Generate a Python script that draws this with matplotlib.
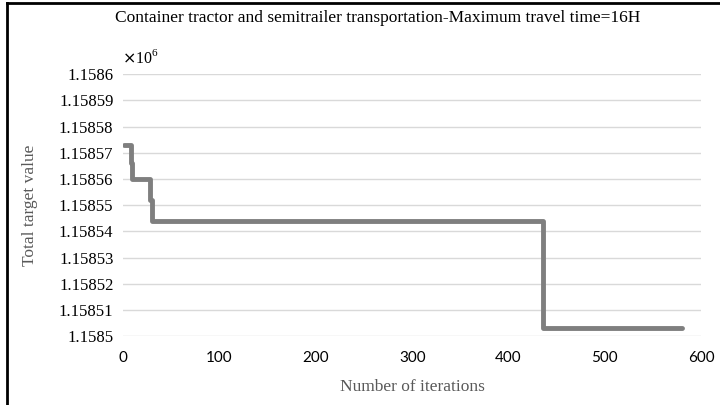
import numpy as np
import matplotlib.pyplot as plt
from matplotlib.lines import Line2D

# Data (step curve, value holds until next iteration)
iterations = [1, 8, 9, 28, 30, 436, 580]
target_value = [1158573, 1158566, 1158560, 1158552, 1158544, 1158503, 1158503]

y_ticks = [1158500, 1158510, 1158520, 1158530, 1158540, 1158550,
           1158560, 1158570, 1158580, 1158590, 1158600]
y_tick_labels = ["1.1585", "1.15851", "1.15852", "1.15853", "1.15854", "1.15855",
                 "1.15856", "1.15857", "1.15858", "1.15859", "1.1586"]
x_ticks = [0, 100, 200, 300, 400, 500, 600]

fig = plt.figure(figsize=(7.2, 4.05), dpi=100)
ax = fig.add_axes([0.171, 0.170, 0.803, 0.647])

ax.plot(iterations, target_value, drawstyle="steps-post", color="#7f7f7f",
        linewidth=3.5, solid_capstyle="round", solid_joinstyle="round")

ax.set_xlim(0, 600)
ax.set_ylim(1158500, 1158600)
ax.set_xticks(x_ticks)
ax.set_yticks(y_ticks)
ax.set_yticklabels(y_tick_labels, fontfamily="Liberation Serif", fontsize=12)
ax.set_xticklabels([str(x) for x in x_ticks], fontfamily="Lato", fontsize=11)
ax.tick_params(axis="x", length=0, pad=11)
ax.tick_params(axis="y", length=0, pad=7)

ax.grid(axis="y", color="#d9d9d9", linewidth=1)
ax.set_axisbelow(True)
for s in ax.spines.values():
    s.set_visible(False)

ax.set_xlabel("Number of iterations", fontfamily="Liberation Serif",
              fontsize=12.5, color="#595959", labelpad=10)
ax.set_ylabel("Total target value", fontfamily="Liberation Serif",
              fontsize=12.5, color="#595959", labelpad=15)

fig.text(0.525, 0.955, "Container tractor and semitrailer transportation-Maximum travel time=16H",
         ha="center", va="center", fontfamily="Liberation Serif", fontsize=12.5)
fig.text(0.170, 0.858, r"$\times$10$^{\mathregular{6}}$", ha="left", va="center",
         fontfamily="Liberation Serif", fontsize=11.5)

# frame lines on the left and top
fig.add_artist(Line2D([0.010, 0.010], [0, 0.993], color="black", linewidth=2))
fig.add_artist(Line2D([0.010, 1.0], [0.993, 0.993], color="black", linewidth=2))

fig.savefig("out.png", dpi=100)
